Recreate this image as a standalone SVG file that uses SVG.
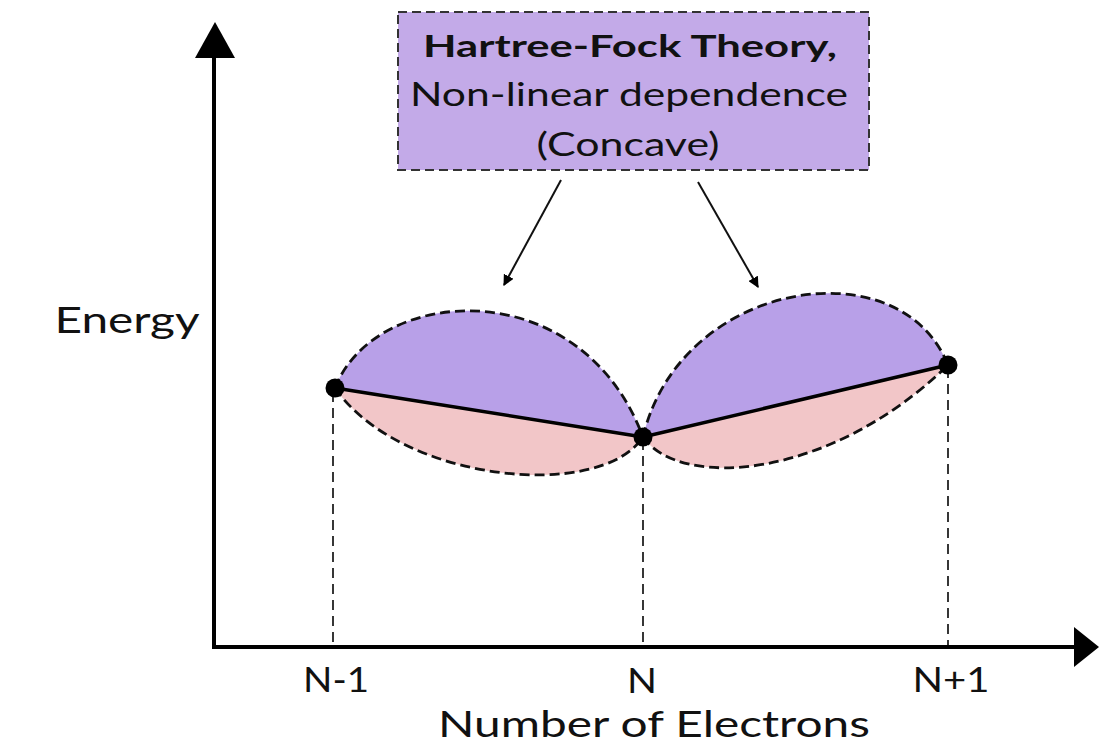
<svg xmlns="http://www.w3.org/2000/svg" width="1099" height="746" viewBox="0 0 1099 746">
<style>
text{font-family:Lato,"Open Sans",sans-serif;fill:#111;}
.dash{fill:none;stroke:#111;stroke-width:2.8;stroke-dasharray:10 5;}
.vdash{fill:none;stroke:#222;stroke-width:1.8;stroke-dasharray:10 6;}
.axis{stroke:#000;stroke-width:4;fill:none;}
.solid{stroke:#000;stroke-width:3.5;fill:none;}
.conn{stroke:#111;stroke-width:2;fill:none;marker-end:url(#ah);}
</style>
<defs>
<marker id="ah" viewBox="0 0 10 10" refX="9" refY="5" markerWidth="11" markerHeight="11" markerUnits="userSpaceOnUse" orient="auto"><path d="M0,0 L10,5 L0,10 z" fill="#000"/></marker>
</defs>
<g id="axes">
<line class="axis" x1="214" y1="649" x2="214" y2="55"/>
<polygon points="215,22 195,58 235,58" fill="#000"/>
<line class="axis" x1="212" y1="647" x2="1076" y2="647"/>
<polygon points="1099,647 1074,627 1074,667" fill="#000"/>
</g>
<g id="lobes">
<path d="M335,388 C375,285 580,270 643,437 Z" fill="#b8a0e8"/>
<path d="M335,388 C400,482 600,502 643,437 Z" fill="#f2c6c8"/>
<path d="M643,437 C680,280 900,245 948,365 Z" fill="#b8a0e8"/>
<path d="M643,437 C680,490 830,480 948,365 Z" fill="#f2c6c8"/>
<path class="dash" d="M335,388 C375,285 580,270 643,437"/>
<path class="dash" d="M335,388 C400,482 600,502 643,437"/>
<path class="dash" d="M643,437 C680,280 900,245 948,365"/>
<path class="dash" d="M643,437 C680,490 830,480 948,365"/>
</g>
<g id="guides">
<line class="vdash" x1="333" y1="392" x2="333" y2="645"/>
<line class="vdash" x1="643" y1="440" x2="643" y2="645"/>
<line class="vdash" x1="948" y1="368" x2="948" y2="645"/>
</g>
<g id="linear">
<line class="solid" x1="335" y1="388" x2="643" y2="437"/>
<line class="solid" x1="643" y1="437" x2="948" y2="365"/>
<circle cx="335" cy="388" r="9.5" fill="#000"/>
<circle cx="643" cy="437" r="9.5" fill="#000"/>
<circle cx="948" cy="365" r="9.5" fill="#000"/>
</g>
<g id="title-box">
<rect x="398" y="12" width="471" height="158" fill="#c3aae8" stroke="#333" stroke-width="2" stroke-dasharray="9 5"/>
<text x="630" y="57" font-size="30" font-weight="bold" text-anchor="middle" textLength="414" lengthAdjust="spacingAndGlyphs">Hartree-Fock Theory,</text>
<text x="629" y="106" font-size="33" text-anchor="middle" textLength="438" lengthAdjust="spacingAndGlyphs">Non-linear dependence</text>
<text x="628" y="156" font-size="33" text-anchor="middle" textLength="183" lengthAdjust="spacingAndGlyphs">(Concave)</text>
</g>
<g id="connectors">
<line class="conn" x1="561" y1="180" x2="504" y2="285"/>
<line class="conn" x1="698" y1="182" x2="758" y2="287"/>
</g>
<g id="labels">
<text x="127" y="333" font-size="36" text-anchor="middle" textLength="145" lengthAdjust="spacingAndGlyphs">Energy</text>
<text x="336" y="692" font-size="34" text-anchor="middle" textLength="66" lengthAdjust="spacingAndGlyphs">N-1</text>
<text x="642" y="693" font-size="34" text-anchor="middle" textLength="30" lengthAdjust="spacingAndGlyphs">N</text>
<text x="951" y="692" font-size="34" text-anchor="middle" textLength="77" lengthAdjust="spacingAndGlyphs">N+1</text>
<text x="654" y="737" font-size="36" text-anchor="middle" textLength="432" lengthAdjust="spacingAndGlyphs">Number of Electrons</text>
</g>
</svg>
